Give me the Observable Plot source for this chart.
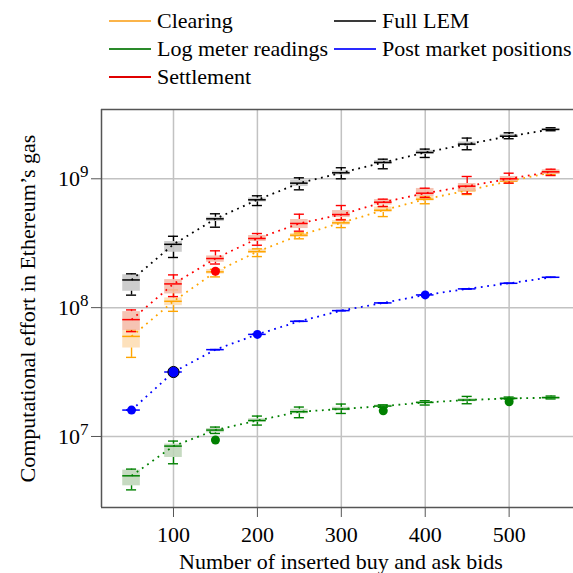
<!DOCTYPE html>
<html><head><meta charset="utf-8">
<script src="https://cdn.jsdelivr.net/npm/d3@7"></script>
<script src="https://cdn.jsdelivr.net/npm/@observablehq/plot@0.6"></script>
<style>
body{margin:0;background:#fff;font-family:"Liberation Serif","Times New Roman",serif;}
#legend{position:relative;width:573px;height:95px;font-size:22px;color:#000;}
.item{position:absolute;display:flex;align-items:center;white-space:nowrap;line-height:22px;height:22px}
.item .sw{display:inline-block;width:42px;height:1.4px;margin-right:6px}
#chart svg{display:block}
</style></head><body>
<div id="legend"></div><div id="chart"></div>
<script>
// ---- data ----
const xs = [50,100,150,200,250,300,350,400,450,500,550];
const xTicks = [100,200,300,400,500];
const yTicks = [1e7,1e8,1e9];

const clearingMed = [5.98e7,1.12e8,1.894e8,2.72e8,3.65e8,4.55e8,5.70e8,6.94e8,8.11e8,9.58e8,1.119e9];
const clearingQ1  = [4.86e7,1.036e8,1.82e8,2.63e8,3.50e8,4.37e8,5.47e8,6.72e8,7.82e8,9.36e8,1.089e9];
const clearingQ3  = [6.63e7,1.19e8,1.974e8,2.84e8,3.76e8,4.74e8,6.04e8,7.29e8,8.56e8,9.88e8,1.15e9];
const clearingLo  = [4.11e7,9.36e7,1.732e8,2.49e8,3.42e8,4.18e8,5.09e8,6.40e8,7.55e8,9.25e8,1.08e9];
const clearingHi  = [6.71e7,1.373e8,1.985e8,2.86e8,3.80e8,4.83e8,6.10e8,7.33e8,8.87e8,1.0e9,1.16e9];

const fullMed = [1.64e8,3.10e8,4.89e8,6.87e8,9.25e8,1.113e9,1.339e9,1.60e9,1.857e9,2.14e9,2.415e9];
const fullQ1  = [1.34e8,2.69e8,4.66e8,6.61e8,8.71e8,1.07e9,1.29e9,1.545e9,1.80e9,2.094e9,2.37e9];
const fullQ3  = [1.80e8,3.26e8,5.03e8,7.09e8,9.70e8,1.15e9,1.387e9,1.66e9,1.93e9,2.21e9,2.46e9];
const fullLo  = [1.25e8,2.45e8,4.21e8,6.20e8,8.21e8,1.0e9,1.196e9,1.464e9,1.68e9,2.046e9,2.36e9];
const fullHi  = [1.83e8,3.58e8,5.35e8,7.38e8,1.018e9,1.218e9,1.42e9,1.70e9,2.07e9,2.275e9,2.49e9];

const logMed = [4.95e6,8.42e6,1.121e7,1.33e7,1.556e7,1.633e7,1.722e7,1.837e7,1.918e7,1.974e7,2.0e7];
const logQ1  = [4.14e6,6.87e6,1.068e7,1.29e7,1.50e7,1.584e7,1.692e7,1.805e7,1.86e7,1.96e7,1.963e7];
const logQ3  = [5.48e6,8.73e6,1.153e7,1.372e7,1.627e7,1.686e7,1.754e7,1.86e7,1.963e7,2.0e7,2.035e7];
const logLo  = [3.85e6,6.14e6,1.055e7,1.226e7,1.398e7,1.509e7,1.685e7,1.754e7,1.795e7,1.95e7,1.955e7];
const logHi  = [5.58e6,9.21e6,1.183e7,1.44e7,1.692e7,1.785e7,1.76e7,1.894e7,2.046e7,2.023e7,2.06e7];

const postMed = [1.603e7,3.165e7,4.72e7,6.20e7,7.83e7,9.48e7,1.088e8,1.255e8,1.398e8,1.545e8,1.72e8];
const postQ1  = [1.60e7,3.16e7,4.71e7,6.19e7,7.82e7,9.46e7,1.086e8,1.253e8,1.396e8,1.543e8,1.718e8];
const postQ3  = [1.606e7,3.17e7,4.73e7,6.21e7,7.84e7,9.50e7,1.09e8,1.257e8,1.40e8,1.547e8,1.722e8];
const postLo  = postQ1;
const postHi  = postQ3;

const settleMed = [8.07e7,1.528e8,2.405e8,3.44e8,4.50e8,5.28e8,6.58e8,7.73e8,8.76e8,1.0e9,1.133e9];
const settleQ1  = [6.63e7,1.277e8,2.25e8,3.26e8,4.11e8,5.0e8,6.26e8,7.29e8,7.97e8,9.48e8,1.08e9];
const settleQ3  = [9.31e7,1.65e8,2.52e8,3.63e8,4.83e8,5.67e8,6.90e8,8.41e8,9.19e8,1.042e9,1.175e9];
const settleLo  = [6.51e7,1.218e8,2.18e8,3.05e8,3.92e8,4.80e8,6.09e8,7.16e8,7.65e8,9.25e8,1.06e9];
const settleHi  = [9.60e7,1.795e8,2.76e8,3.76e8,5.31e8,6.20e8,6.95e8,8.45e8,1.042e9,1.105e9,1.187e9];

// highlighted single measurements
const markSeries = ["Settlement","Post market positions","Post market positions","Post market positions","Post market positions","Log meter readings","Log meter readings","Log meter readings"];
const markX = [150,50,100,200,400,150,350,500];
const markY = [1.915e8,1.603e7,3.165e7,6.20e7,1.255e8,9.38e6,1.584e7,1.86e7];

const seriesNames = ["Clearing","Full LEM","Log meter readings","Post market positions","Settlement"];
const seriesColors = ["#ffa500","#000000","#008000","#0000ff","#ff0000"];
const legendColors = ["#fbb44a","#3a3a3a","#2a8a2a","#2a2aff","#e00000"];
const boxFills = ["#fddcb0","#c4c4c4","#bcd4b6","#c8c8ff","#f5b9a6"];

const FONT = '"Liberation Serif","Times New Roman",serif';

// ---- legend ----
const legend = document.getElementById("legend");
const legendPos = [[109,21],[334,21],[109,49],[334,49],[109,77]];
seriesNames.forEach((n,i)=>{
  const it = document.createElement("div");
  it.className="item";
  it.style.left = legendPos[i][0]+"px";
  it.style.top = (legendPos[i][1]-11)+"px";
  const sw = document.createElement("span"); sw.className="sw"; sw.style.backgroundColor = legendColors[i];
  const tx = document.createElement("span"); tx.textContent = n;
  it.appendChild(sw); it.appendChild(tx); legend.appendChild(it);
});

// ---- build rows ----
const stats = [
  [clearingMed,clearingQ1,clearingQ3,clearingLo,clearingHi],
  [fullMed,fullQ1,fullQ3,fullLo,fullHi],
  [logMed,logQ1,logQ3,logLo,logHi],
  [postMed,postQ1,postQ3,postLo,postHi],
  [settleMed,settleQ1,settleQ3,settleLo,settleHi]
];
const hw = 10.5, cw = 6;
const marks = [
  Plot.ruleX(xTicks, {stroke:"#c2c2c2", strokeWidth:1.5}),
  Plot.ruleY(yTicks, {stroke:"#c2c2c2", strokeWidth:1.5})
];
seriesNames.forEach((name,i)=>{
  const [m,q1,q3,lo,hi] = stats[i];
  const rows = xs.map((x,j)=>({x, med:m[j], q1:q1[j], q3:q3[j], lo:lo[j], hi:hi[j]}));
  const c = seriesColors[i];
  if (name !== "Post market positions")
    marks.push(Plot.rect(rows, {x1:d=>d.x-hw, x2:d=>d.x+hw, y1:"q1", y2:"q3", fill:boxFills[i], fillOpacity:0.85}));
  marks.push(
    Plot.line(rows, {x:"x", y:"med", stroke:c, strokeWidth:1.8, strokeDasharray:"1.8,4.6", strokeLinecap:"butt"}),
    Plot.ruleX(rows, {x:"x", y1:"lo", y2:"q1", stroke:c, strokeWidth:1.4}),
    Plot.ruleX(rows, {x:"x", y1:"q3", y2:"hi", stroke:c, strokeWidth:1.4}),
    Plot.ruleY(rows, {y:"lo", x1:d=>d.x-cw, x2:d=>d.x+cw, stroke:c, strokeWidth:1.4}),
    Plot.ruleY(rows, {y:"hi", x1:d=>d.x-cw, x2:d=>d.x+cw, stroke:c, strokeWidth:1.4}),
    Plot.ruleY(rows, {y:"med", x1:d=>d.x-hw, x2:d=>d.x+hw, stroke:c, strokeWidth:1.5})
  );
});
const dots = markX.map((x,i)=>({x, y:markY[i], c:seriesColors[seriesNames.indexOf(markSeries[i])], big:(x===100 && markSeries[i]==="Post market positions")}));
dots.filter(d=>!d.big).forEach(d=>marks.push(Plot.dot([d], {x:"x", y:"y", r:4.5, fill:d.c, stroke:"none"})));
dots.filter(d=>d.big).forEach(d=>marks.push(Plot.dot([d], {x:"x", y:"y", r:5.6, fill:d.c, stroke:"#000", strokeWidth:1})));

// frame (left, top, bottom)
const xDom = [14.2, 576.7], yDom = [2.81e6, 3.45e9];
marks.push(
  Plot.ruleX([xDom[0]], {stroke:"#555", strokeWidth:1.5}),
  Plot.ruleY([yDom[0]], {stroke:"#555", strokeWidth:1.5}),
  Plot.ruleY([yDom[1]], {stroke:"#555", strokeWidth:1.5}),
  Plot.axisX({ticks:xTicks, tickSize:10, tickPadding:9, label:null, stroke:"#555", fontSize:22}),
  Plot.axisY({ticks:yTicks, tickSize:10, tickPadding:3, label:null, stroke:"#555", fontSize:22, tickFormat:d=>"10^"+Math.round(Math.log10(d))}),
  Plot.text(["Number of inserted buy and ask bids"], {frameAnchor:"bottom", textAnchor:"middle", lineAnchor:"middle", dy:54, dx:3.5, fontSize:22}),
  Plot.text(["Computational effort in Ethereum\u2019s gas"], {frameAnchor:"left", textAnchor:"middle", lineAnchor:"middle", rotate:-90, dx:-74, dy:0, fontSize:22})
);

const svg = Plot.plot({
  width:573, height:478, marginTop:14, marginBottom:66, marginLeft:101, marginRight:0,
  x:{domain:xDom}, y:{type:"log", domain:yDom},
  style:{fontFamily:FONT, fontSize:"22px", background:"white", color:"#000"},
  marks
});
d3.select(svg).selectAll('g[aria-label="y-axis tick label"] text').each(function(){
  const [b,e] = this.textContent.split("^");
  const s = d3.select(this); s.text(b);
  s.append("tspan").attr("dy","-0.5em").attr("font-size","17px").text(e);
});
document.getElementById("chart").appendChild(svg);
</script>
</body></html>
